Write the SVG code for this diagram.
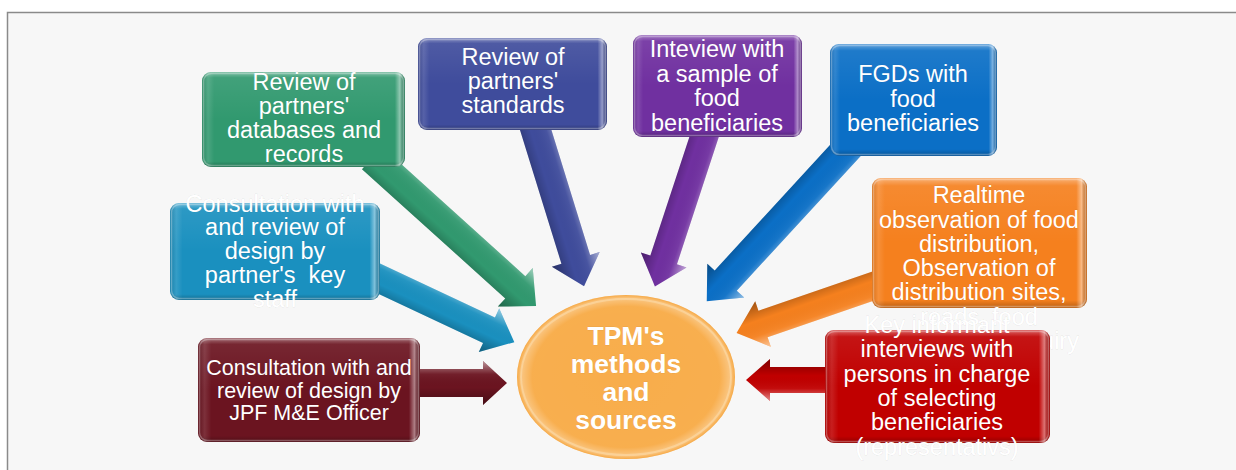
<svg xmlns="http://www.w3.org/2000/svg" width="1236" height="470" viewBox="0 0 1236 470">
<defs>
<linearGradient id="gV" x1="0" y1="0" x2="0" y2="1">
<stop offset="0" stop-color="#fff" stop-opacity="0.4"/>
<stop offset="0.06" stop-color="#fff" stop-opacity="0.08"/>
<stop offset="0.5" stop-color="#fff" stop-opacity="0"/>
<stop offset="0.94" stop-color="#000" stop-opacity="0"/>
<stop offset="1" stop-color="#000" stop-opacity="0.25"/>
</linearGradient>
<linearGradient id="gH" x1="0" y1="0" x2="1" y2="0">
<stop offset="0" stop-color="#000" stop-opacity="0.12"/>
<stop offset="0.03" stop-color="#fff" stop-opacity="0.12"/>
<stop offset="0.06" stop-color="#fff" stop-opacity="0"/>
<stop offset="0.95" stop-color="#fff" stop-opacity="0"/>
<stop offset="0.975" stop-color="#fff" stop-opacity="0.45"/>
<stop offset="1" stop-color="#000" stop-opacity="0.2"/>
</linearGradient>
<linearGradient id="gA" x1="0" y1="0" x2="0" y2="1">
<stop offset="0" stop-color="#fff" stop-opacity="0.55"/>
<stop offset="0.3" stop-color="#fff" stop-opacity="0.05"/>
<stop offset="0.6" stop-color="#000" stop-opacity="0"/>
<stop offset="1" stop-color="#000" stop-opacity="0.35"/>
</linearGradient>
<radialGradient id="gE" cx="0.5" cy="0.5" r="0.5">
<stop offset="0" stop-color="#fff" stop-opacity="0"/>
<stop offset="0.86" stop-color="#fff" stop-opacity="0.02"/>
<stop offset="0.96" stop-color="#fff" stop-opacity="0.3"/>
<stop offset="1" stop-color="#f3a23c" stop-opacity="0.3"/>
</radialGradient>
<style>
.t{font-family:"Liberation Sans",Arial,sans-serif;font-size:23.5px;fill:#fff;text-anchor:middle;stroke:#000;stroke-opacity:0.07;stroke-width:1;paint-order:stroke}
.s{font-size:21.5px}
.b{font-weight:bold;font-size:26.5px}
.ov{fill:url(#gV)}
.oh{fill:url(#gH)}
.edge{fill:none;stroke:#fff;stroke-opacity:0.3;stroke-width:1.5}
.sh{fill:url(#gA)}
</style>
</defs>
<rect x="0" y="0" width="1236" height="470" fill="#fff"/>
<rect x="7.5" y="12.5" width="1240" height="470" fill="#f7f7f7" stroke="#8a8a8a" stroke-width="1.5"/>

<g id="connectors">
<g transform="translate(372,158) rotate(42.06)"><polygon fill="#31996f" points="0,-15 193,-15 193,-26 221,0 193,26 193,15 0,15"/><polygon class="sh" points="0,-15 193,-15 193,-26 221,0 193,26 193,15 0,15"/></g>
<g transform="translate(532,118) rotate(72.8)"><polygon fill="#3f4c9c" points="0,-15 148,-15 148,-25 176,0 148,25 148,15 0,15"/><polygon class="sh" points="0,-15 148,-15 148,-25 176,0 148,25 148,15 0,15"/></g>
<g transform="translate(708,125) rotate(108.2)"><polygon fill="#7030a0" points="0,-14 142,-14 142,-24 170,0 142,24 142,14 0,14"/><polygon class="sh" points="0,-14 142,-14 142,-24 170,0 142,24 142,14 0,14"/></g>
<g transform="translate(855,140) rotate(132.6)"><polygon fill="#0b6fc6" points="0,-15 191,-15 191,-25 219,0 191,25 191,15 0,15"/><polygon class="sh" points="0,-15 191,-15 191,-25 219,0 191,25 191,15 0,15"/></g>
<g transform="translate(885,282) rotate(161)"><polygon fill="#f5801e" points="0,-14 129,-14 129,-24 157,0 129,24 129,14 0,14"/><polygon class="sh" points="0,-14 129,-14 129,-24 157,0 129,24 129,14 0,14"/></g>
<g transform="translate(840,380) rotate(180)"><polygon fill="#c00000" points="0,-13 70,-13 70,-21 94,0 70,21 70,13 0,13"/><polygon class="sh" points="0,-13 70,-13 70,-21 94,0 70,21 70,13 0,13"/></g>
<g transform="translate(405,383)"><polygon fill="#6b1420" points="0,-14 78,-14 78,-22 102,0 78,22 78,14 0,14"/><polygon class="sh" points="0,-14 78,-14 78,-22 102,0 78,22 78,14 0,14"/></g>
<g transform="translate(365,272) rotate(25.16)"><polygon fill="#1a90bf" points="0,-14 137,-14 137,-24 165,0 137,24 137,14 0,14"/><polygon class="sh" points="0,-14 137,-14 137,-24 165,0 137,24 137,14 0,14"/></g>
</g>

<g id="node-databases">
<rect x="202" y="72" width="203" height="95" rx="9" fill="#31996f"/>
<rect x="202" y="72" width="203" height="95" rx="9" class="ov"/>
<rect x="202" y="72" width="203" height="95" rx="9" class="oh"/>
<rect x="203.5" y="73.5" width="200" height="92" rx="8" class="edge"/>
<text class="t"><tspan x="304" y="90">Review of</tspan><tspan x="304" y="114">partners'</tspan><tspan x="304" y="138">databases and</tspan><tspan x="304" y="162">records</tspan></text>
</g>

<g id="node-standards">
<rect x="418" y="38" width="189" height="92" rx="9" fill="#3f4c9c"/>
<rect x="418" y="38" width="189" height="92" rx="9" class="ov"/>
<rect x="418" y="38" width="189" height="92" rx="9" class="oh"/>
<rect x="419.5" y="39.5" width="186" height="89" rx="8" class="edge"/>
<text class="t"><tspan x="513" y="65">Review of</tspan><tspan x="513" y="89">partners'</tspan><tspan x="513" y="113">standards</tspan></text>
</g>

<g id="node-interview">
<rect x="633" y="35" width="169" height="102" rx="9" fill="#7030a0"/>
<rect x="633" y="35" width="169" height="102" rx="9" class="ov"/>
<rect x="633" y="35" width="169" height="102" rx="9" class="oh"/>
<rect x="634.5" y="36.5" width="166" height="99" rx="8" class="edge"/>
<text class="t"><tspan x="717" y="57">Inteview with</tspan><tspan x="717" y="81.5">a sample of</tspan><tspan x="717" y="106">food</tspan><tspan x="717" y="130.5">beneficiaries</tspan></text>
</g>

<g id="node-fgds">
<rect x="830" y="44" width="167" height="112" rx="9" fill="#0b6fc6"/>
<rect x="830" y="44" width="167" height="112" rx="9" class="ov"/>
<rect x="830" y="44" width="167" height="112" rx="9" class="oh"/>
<rect x="831.5" y="45.5" width="164" height="109" rx="8" class="edge"/>
<text class="t"><tspan x="913" y="82">FGDs with</tspan><tspan x="913" y="107">food</tspan><tspan x="913" y="131">beneficiaries</tspan></text>
</g>

<g id="node-observation">
<rect x="872" y="178" width="215" height="130" rx="9" fill="#f5801e"/>
<rect x="872" y="178" width="215" height="130" rx="9" class="ov"/>
<rect x="872" y="178" width="215" height="130" rx="9" class="oh"/>
<rect x="873.5" y="179.5" width="212" height="127" rx="8" class="edge"/>
<text class="t"><tspan x="979" y="203">Realtime</tspan><tspan x="979" y="227.5">observation of food</tspan><tspan x="979" y="252">distribution,</tspan><tspan x="979" y="276">Observation of</tspan><tspan x="979" y="300">distribution sites,</tspan><tspan x="979" y="325">roads, food</tspan><tspan x="979" y="349">storage and inquiry</tspan></text>
</g>

<g id="node-keyinformant">
<rect x="825" y="330" width="225" height="113" rx="9" fill="#c00000"/>
<rect x="825" y="330" width="225" height="113" rx="9" class="ov"/>
<rect x="825" y="330" width="225" height="113" rx="9" class="oh"/>
<rect x="826.5" y="331.5" width="222" height="110" rx="8" class="edge"/>
<text class="t"><tspan x="937" y="333">Key informant</tspan><tspan x="937" y="357">interviews with</tspan><tspan x="937" y="381.5">persons in charge</tspan><tspan x="937" y="406">of selecting</tspan><tspan x="937" y="430">beneficiaries</tspan><tspan x="937" y="455">(representativs)</tspan></text>
</g>

<g id="node-jpf">
<rect x="198" y="338" width="222" height="104" rx="9" fill="#6b1420"/>
<rect x="198" y="338" width="222" height="104" rx="9" class="ov"/>
<rect x="198" y="338" width="222" height="104" rx="9" class="oh"/>
<rect x="199.5" y="339.5" width="219" height="101" rx="8" class="edge"/>
<text class="t s"><tspan x="309" y="375">Consultation with and</tspan><tspan x="309" y="397.5">review of design by</tspan><tspan x="309" y="419.5">JPF M&amp;E Officer</tspan></text>
</g>

<g id="node-keystaff">
<rect x="170" y="203" width="210" height="97" rx="9" fill="#1a90bf"/>
<rect x="170" y="203" width="210" height="97" rx="9" class="ov"/>
<rect x="170" y="203" width="210" height="97" rx="9" class="oh"/>
<rect x="171.5" y="204.5" width="207" height="94" rx="8" class="edge"/>
<text class="t"><tspan x="275" y="211.5">Consultation with</tspan><tspan x="275" y="235">and review of</tspan><tspan x="275" y="258.5">design by</tspan><tspan x="275" y="282.5">partner's&#160; key</tspan><tspan x="275" y="306.5">staff</tspan></text>
</g>

<g id="node-center">
<ellipse cx="626" cy="377" rx="109" ry="82" fill="#f8ad4b"/>
<ellipse cx="626" cy="377" rx="109" ry="82" fill="url(#gE)"/>
<ellipse cx="626" cy="377" rx="105" ry="78" fill="none" stroke="#fde3b5" stroke-opacity="0.45" stroke-width="2"/>
<text class="t b"><tspan x="626" y="345">TPM's</tspan><tspan x="626" y="373">methods</tspan><tspan x="626" y="401">and</tspan><tspan x="626" y="428.5">sources</tspan></text>
</g>
</svg>
